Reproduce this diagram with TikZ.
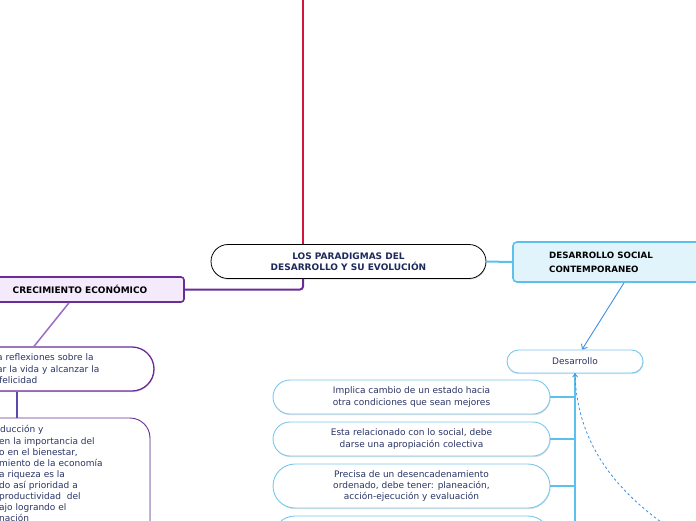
\documentclass[tikz,border=0pt]{standalone}
\usepackage{fontspec}
\setmainfont{DejaVu Sans}
\usetikzlibrary{shadows,arrows.meta}
\definecolor{navy}{HTML}{1F2A5C}
\definecolor{txt}{HTML}{2B3566}
\definecolor{crimson}{HTML}{D3163F}
\definecolor{purp}{HTML}{6A2C96}
\definecolor{lilac}{HTML}{9A6CC4}
\definecolor{bpurp}{HTML}{5A4AAE}
\definecolor{lav}{HTML}{F4EAFB}
\definecolor{sky}{HTML}{5BC0EB}
\definecolor{skyb}{HTML}{78C8EE}
\definecolor{skyfill}{HTML}{E1F4FC}
\definecolor{arrowblue}{HTML}{3D8FE0}
\tikzset{
  shade/.style={drop shadow={shadow xshift=0.6pt, shadow yshift=-1.2pt, opacity=0.25}},
  pill/.style={draw=skyb, line width=0.9pt, fill=white, shade, inner sep=0pt},
  body/.style={font=\fontsize{9}{12}\selectfont, text=txt, align=center},
  ltext/.style={font=\fontsize{9}{11.5}\selectfont, text=txt, align=left, anchor=north west, inner sep=0pt},
  head/.style={font=\fontsize{9}{11}\selectfont\bfseries, text=black},
}
\begin{document}
\begin{tikzpicture}[x=1pt,y=-1pt]
\useasboundingbox (0,0) rectangle (696,520);
% central
\node[draw=black, line width=0.8pt, fill=white, shade, rounded corners=17pt, minimum width=275pt, minimum height=34pt, inner sep=0pt, font=\fontsize{9}{11.2}\selectfont\bfseries, text=navy, align=center] (root) at (348.5,261.5) {LOS PARADIGMAS DEL\\DESARROLLO Y SU EVOLUCIÓN};
\coordinate (top) at (303,0);
\draw[crimson, line width=2pt] (top) -- (top |- root.north);
% left branch
\node[draw=purp, line width=1.6pt, fill=lav, rounded corners=3pt, minimum width=208pt, minimum height=25pt, inner sep=0pt, head] (crec) at (80,289.5) {CRECIMIENTO ECONÓMICO};
\draw[purp, line width=2pt, rounded corners=3pt] ([xshift=-45.5pt]root.south) |- (crec.east);
\node[draw=purp, line width=1.3pt, fill=white, shade, rounded corners=22pt, minimum width=274pt, minimum height=44pt, inner sep=0pt] (refl) at (17,369) {};
\node[ltext] (refltext) at (-3,353.5) {a reflexiones sobre la\\ar la vida y alcanzar la\\[-0.4pt]\hspace*{2pt}felicidad};
\draw[lilac, line width=1.5pt] ([xshift=-11pt]crec.south) -- ([xshift=17pt]refl.north);
\node[draw=purp, line width=0.9pt, fill=white, shade, rounded corners=20pt, minimum width=274pt, minimum height=130pt, inner sep=0pt] (prod) at (13,483) {};
\node[ltext, font=\fontsize{9}{11.1}\selectfont] (prodtext) at (-1,425.5) {\hspace*{1pt}ducción y\\en la importancia del\\o en el bienestar,\\miento de la economía\\a riqueza es la\\do así prioridad a\\productividad\ \ del\\ajo logrando el\\nación};
\draw[bpurp, line width=2pt] (refl.south) -- (refl.south |- prod.north);
% right branch
\node[draw=sky, line width=1.6pt, fill=skyfill, rounded corners=4pt, minimum width=197pt, minimum height=40pt, inner sep=0pt] (dsoc) at (611.5,262) {};
\node[head, font=\fontsize{8.7}{13.5}\selectfont\bfseries, align=left, anchor=west, inner sep=0pt] (dsoctext) at (549,262.5) {DESARROLLO SOCIAL\\CONTEMPORANEO};
\draw[sky, line width=2pt] (root.east) -- (dsoc.west);
\node[pill, rounded corners=11.5pt, minimum width=136pt, minimum height=23pt, body] (des) at (575,361.5) {Desarrollo};
\draw[arrowblue, line width=0.9pt, -{Straight Barb[length=4pt,width=7pt]}] ([xshift=12.5pt]dsoc.south) -- ([xshift=7pt]des.north);
\coordinate (trunkend) at (575,525);
\draw[sky, line width=2.6pt] (des.south) -- (trunkend);
\node[pill, rounded corners=17pt, minimum width=277pt, minimum height=34pt, body] (c1) at (411.5,397) {Implica cambio de un estado hacia\\otra condiciones que sean mejores};
\node[pill, rounded corners=17pt, minimum width=277pt, minimum height=34pt, body] (c2) at (411.5,439) {Esta relacionado con lo social, debe\\darse una apropiación colectiva};
\node[pill, rounded corners=22pt, minimum width=277pt, minimum height=44pt, body, font=\fontsize{9}{11}\selectfont] (c3) at (411.5,486) {Precisa de un desencadenamiento\\ordenado, debe tener: planeación,\\acción-ejecución y evaluación};
\node[pill, rounded corners=22pt, minimum width=277pt, minimum height=44pt] (c4) at (411.5,538) {};
\foreach \c in {c1,c2,c3}{
  \draw[sky, line width=2pt] (\c.east) -- (\c.east -| des.south);
}
\coordinate (dashstart) at (668,527);
\draw[arrowblue, line width=0.8pt, dash pattern=on 2.5pt off 2.5pt, -{Straight Barb[length=3pt,width=5pt]}] (dashstart) .. controls (612,488) and (577,440) .. (des.south);
\end{tikzpicture}
\end{document}
